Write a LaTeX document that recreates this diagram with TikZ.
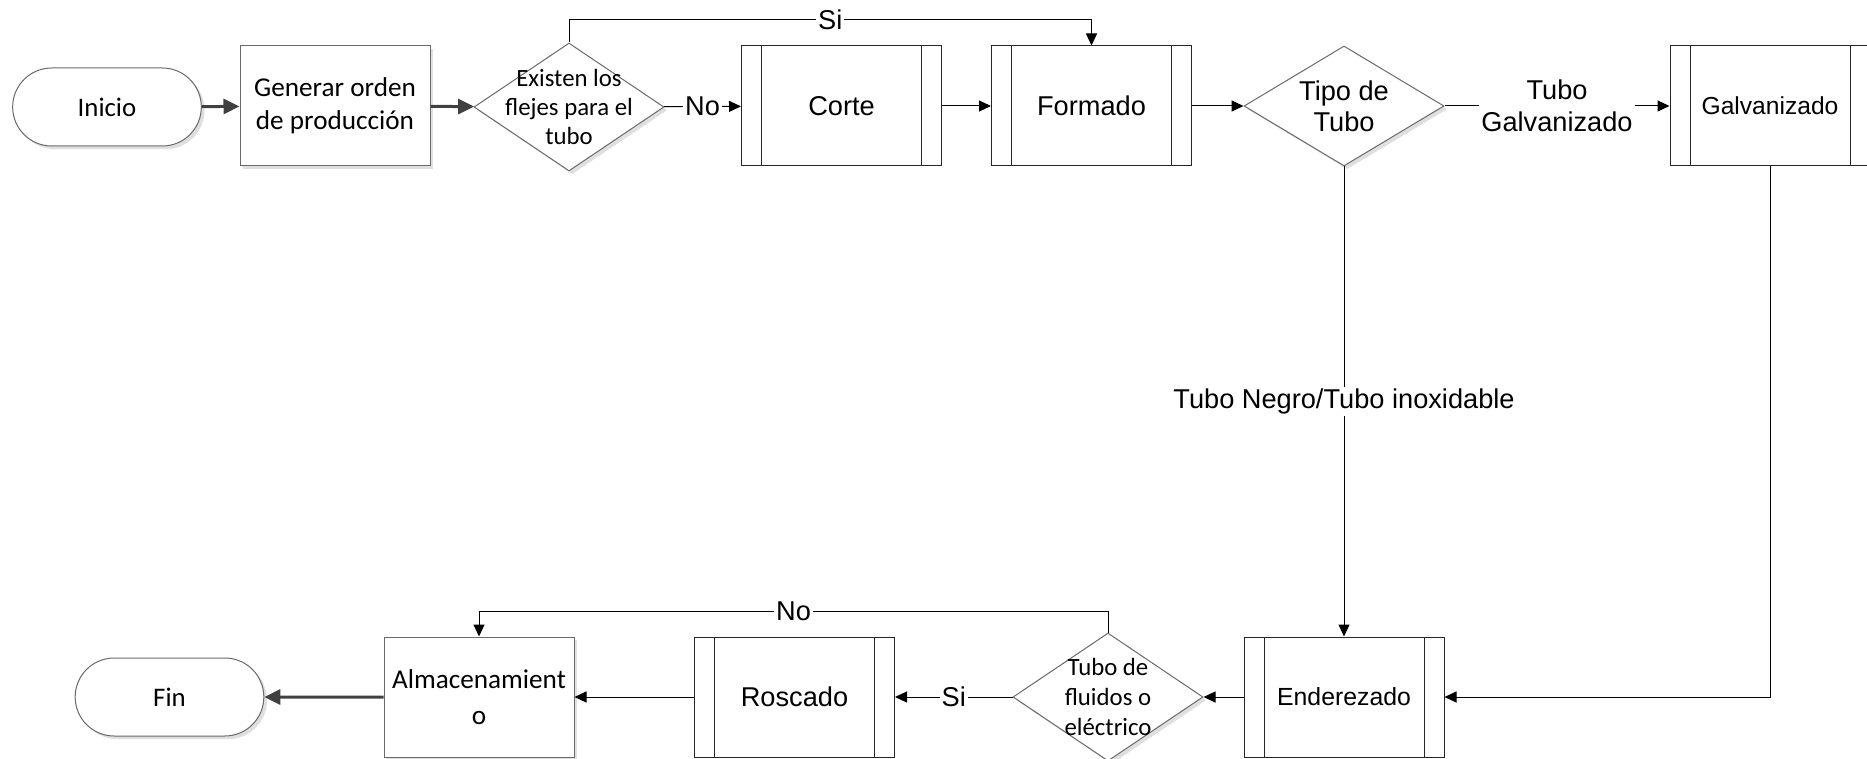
\documentclass[tikz,border=0pt]{standalone}
\usepackage{fontspec}
\setmainfont{Liberation Sans}
\newfontfamily\calibri{Carlito}
\usetikzlibrary{arrows.meta,shapes.geometric,shapes.misc,shadows}
\definecolor{edge}{HTML}{6A6A6A}
\definecolor{heavygray}{HTML}{404040}
\tikzset{
  every picture/.style={
    line join=miter,
    >={Triangle[length=6pt,width=5.5pt]},   % small filled tips
  },
  softshadow/.style={drop shadow={shadow xshift=1.6pt,shadow yshift=-1.6pt,fill=black!25,opacity=0.5}},
  terminal/.style={rounded rectangle, draw=edge, line width=0.5pt, fill=white, softshadow,
    minimum width=101pt, minimum height=39pt, font=\calibri\fontsize{13.4}{16}\selectfont},
  process/.style={rectangle, draw=edge, line width=0.5pt, fill=white, softshadow, align=center,
    minimum width=95pt, minimum height=60pt, font=\calibri\fontsize{13.6}{16.7}\selectfont},
  decision/.style={diamond, draw=edge, line width=0.5pt, fill=white, softshadow, inner sep=0pt,
    minimum width=95pt, minimum height=64pt},
  dtext/.style={font=\calibri\fontsize{12.4}{14.6}\selectfont, align=center},
  subproc/.style={rectangle, draw=black!85, line width=0.5pt, fill=white, align=center,
    minimum width=100pt, minimum height=60pt, font=\fontsize{13.6}{16}\selectfont,
    path picture={
      \draw[black!85, line width=0.5pt]
        ([xshift=10pt]path picture bounding box.north west) -- ([xshift=10pt]path picture bounding box.south west)
        ([xshift=-10pt]path picture bounding box.north east) -- ([xshift=-10pt]path picture bounding box.south east);
    }},
  flow/.style={draw=black, line width=0.5pt, ->},
  heavy/.style={draw=heavygray, line width=1.5pt, -{Triangle[length=8pt,width=7.5pt]}, heavygray},
  lbl/.style={fill=white, inner sep=1pt, align=center, font=\fontsize{13.6}{16}\selectfont},
}

\begin{document}
\begin{tikzpicture}[x=0.5pt, y=-0.5pt]
\path[use as bounding box] (0,0) rectangle (1867,759);

% upper row
\node[terminal] (inicio) at (107,107) {Inicio};
\node[process] (generar) at (335,106) {Generar orden\\de producción};
\node[decision, label={[dtext]center:Existen los\\flejes para el\\tubo}] (existe) at (569,107) {};
\node[subproc] (corte) at (841.5,106) {Corte};
\node[subproc] (formado) at (1091.5,106) {Formado};
\node[decision, minimum width=100pt, minimum height=60pt,
  label={[font=\fontsize{13.6}{15.5}\selectfont, align=center]center:Tipo de\\Tubo}] (tipo) at (1344,106) {};
\node[subproc, font=\fontsize{12.3}{15}\selectfont] (galv) at (1770,106) {Galvanizado};

% lower row
\node[subproc, font=\fontsize{12.4}{15}\selectfont] (ender) at (1344,697) {Enderezado};
\node[decision, label={[dtext, font=\calibri\fontsize{12.4}{15}\selectfont]center:Tubo de\\fluidos o\\eléctrico}] (fluido) at (1108,697) {};
\node[subproc] (roscado) at (794.5,697) {Roscado};
\node[process, font=\calibri\fontsize{13.6}{18}\selectfont] (almac) at (479,697) {Almacenamient\\o};
\node[terminal] (fin) at (169.5,697) {Fin};

% connectors
\draw[heavy] (inicio) -- (generar);
\draw[heavy] (generar) -- (existe);
\draw[flow] (existe) -- node[lbl] {No} (corte);
\draw[flow] (existe.north) -- ++(0,-23) -| node[lbl, pos=0.25] {Si} (formado.north);
\draw[flow] (corte) -- (formado);
\draw[flow] (formado) -- (tipo);
\draw[flow] (tipo) -- node[lbl] {Tubo\\Galvanizado} (galv);
\draw[flow] (tipo) -- node[lbl] {Tubo Negro/Tubo inoxidable} (ender);
\draw[flow] (galv.south) |- (ender.east);
\draw[flow] (ender) -- (fluido);
\draw[flow] (fluido) -- node[lbl] {Si} (roscado);
\draw[flow] (fluido.north) -- ++(0,-21) -| node[lbl, pos=0.25] {No} (almac.north);
\draw[flow] (roscado) -- (almac);
\draw[heavy] (almac) -- (fin);
\end{tikzpicture}
\end{document}
